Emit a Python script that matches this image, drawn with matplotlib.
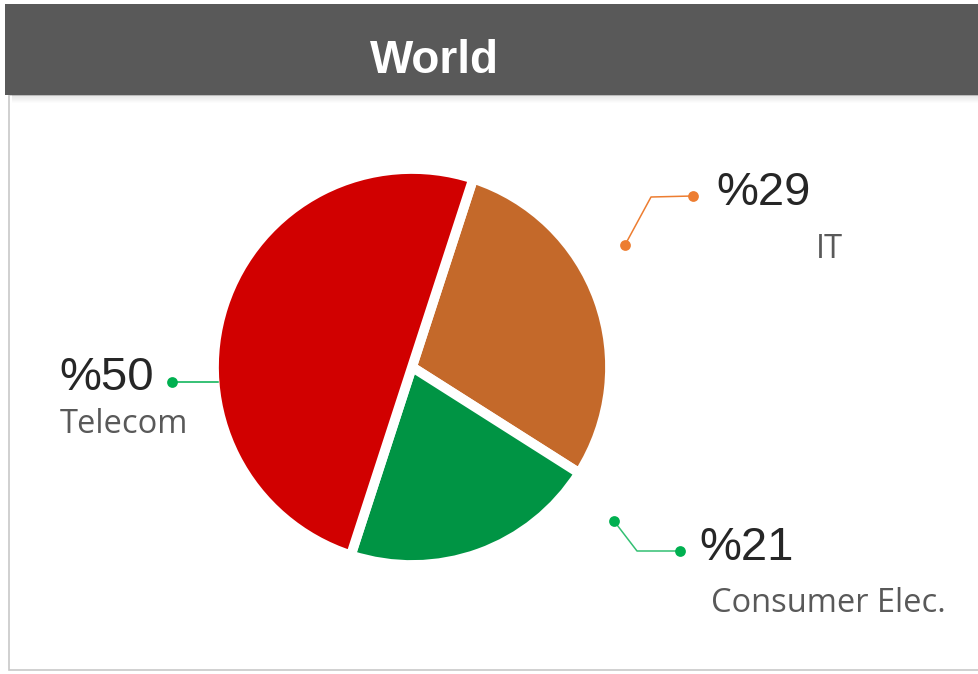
import matplotlib.pyplot as plt
from matplotlib.patches import Rectangle

# data
sectors = ["IT", "Consumer Elec.", "Telecom"]
shares = [29, 21, 50]
colors = ["#C4692A", "#009444", "#D10000"]
dot_colors = ["#ED7D31", "#00B050", "#00B050"]

W, H = 979, 674

fig = plt.figure(figsize=(W / 100, H / 100), dpi=100)
ax = fig.add_axes([0, 0, 1, 1])
ax.set_xlim(0, W)
ax.set_ylim(0, H)
ax.set_aspect("equal")
ax.axis("off")


def y(py):
    # pixel row -> data y
    return H - py


# panel border
ax.add_patch(Rectangle((9, y(670)), W, 670 - 95, facecolor="white",
                       edgecolor="#c8c8c8", linewidth=1.2, zorder=0))

# header shadow
for i in range(8):
    ax.add_patch(Rectangle((12, y(96 + i)), W, 1, facecolor="#000000",
                           alpha=0.10 * (1 - i / 8), linewidth=0, zorder=1))
# header bar
ax.add_patch(Rectangle((5, y(95)), W, 91, facecolor="#595959",
                       linewidth=0, zorder=2))
ax.text(434, y(61), "World", color="white", fontsize=33, fontweight="bold",
        family="Liberation Sans", ha="center", va="center", zorder=3)

# pie
ax.pie(shares, colors=colors, startangle=72, counterclock=False,
       center=(412, y(367)), radius=198, frame=True,
       wedgeprops=dict(edgecolor="white", linewidth=7))
ax.set_xlim(0, W)
ax.set_ylim(0, H)
ax.axis("off")

# leader lines
lines = {
    "IT": ([625, 651, 693], [245, 197, 196]),
    "Consumer Elec.": ([614, 637, 680], [521, 551, 551]),
    "Telecom": ([172, 218], [382, 382]),
}
for name, c in zip(sectors, dot_colors):
    xs, ys = lines[name]
    ax.plot(xs, [y(v) for v in ys], color=c, linewidth=1.1,
            alpha=0.8 if name == "Consumer Elec." else 1, zorder=4)
    ax.scatter([xs[0], xs[-1]] if name != "Telecom" else [xs[0]],
               [y(ys[0]), y(ys[-1])] if name != "Telecom" else [y(ys[0])],
               s=60, color=c, zorder=5, linewidths=0)

# labels
pct_pos = {"IT": (716, 205), "Consumer Elec.": (699, 560), "Telecom": (59, 390)}
name_pos = {"IT": (843, 258), "Consumer Elec.": (946, 612), "Telecom": (188, 433)}
for name, val in zip(sectors, shares):
    px, py = pct_pos[name]
    ax.text(px, y(py), f"%{val}", fontsize=34, color="#262626",
            family="Liberation Sans", ha="left", va="baseline", zorder=6)
    nx_, ny_ = name_pos[name]
    ax.text(nx_, y(ny_), name, fontsize=23.5, color="#595959",
            family="Open Sans", ha="right", va="baseline", zorder=6)

fig.savefig("out.png", dpi=100)
